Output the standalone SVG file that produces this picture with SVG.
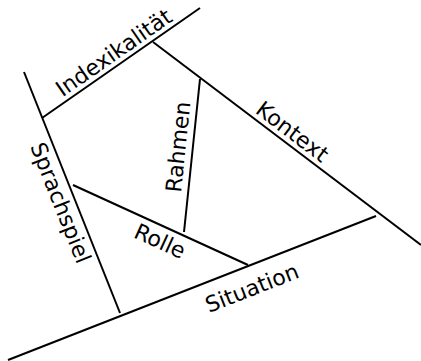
<svg xmlns="http://www.w3.org/2000/svg" width="421" height="361" viewBox="0 0 421 361">
<style>
  .ln { stroke: #000; stroke-width: 2; fill: none; stroke-linecap: butt; }
  .lb { font-family: "DejaVu Sans", Verdana, sans-serif; font-size: 22px; fill: #000; text-anchor: middle; }
</style>
<rect width="421" height="361" fill="#fff"/>
<g id="connectors">
  <line class="ln" x1="200" y1="8" x2="42" y2="118"/>
  <line class="ln" x1="153" y1="42" x2="421" y2="245"/>
  <line class="ln" x1="24" y1="72" x2="120" y2="313"/>
  <line class="ln" x1="200" y1="79" x2="184" y2="232"/>
  <line class="ln" x1="73" y1="185" x2="248" y2="265"/>
  <line class="ln" x1="8" y1="360" x2="376" y2="216"/>
</g>
<g id="indexikalitaet" transform="translate(121,63) rotate(-34.8)"><text class="lb" x="0" y="-5">Indexikalität</text></g>
<g id="kontext" transform="translate(284.8,141.7) rotate(37.1)"><text class="lb" x="0" y="-5">Kontext</text></g>
<g id="sprachspiel" transform="translate(74,197.5) rotate(68.3)"><text class="lb" x="0" y="22">Sprachspiel</text></g>
<g id="rahmen" transform="translate(192.6,148.5) rotate(-84)"><text class="lb" x="0" y="-7">Rahmen</text></g>
<g id="rolle" transform="translate(166.1,227.6) rotate(24.6)"><text class="lb" x="0" y="22.5">Rolle</text></g>
<g id="situation" transform="translate(244,267.7) rotate(-21.4)"><text class="lb" x="0" y="29.5">Situation</text></g>
</svg>
